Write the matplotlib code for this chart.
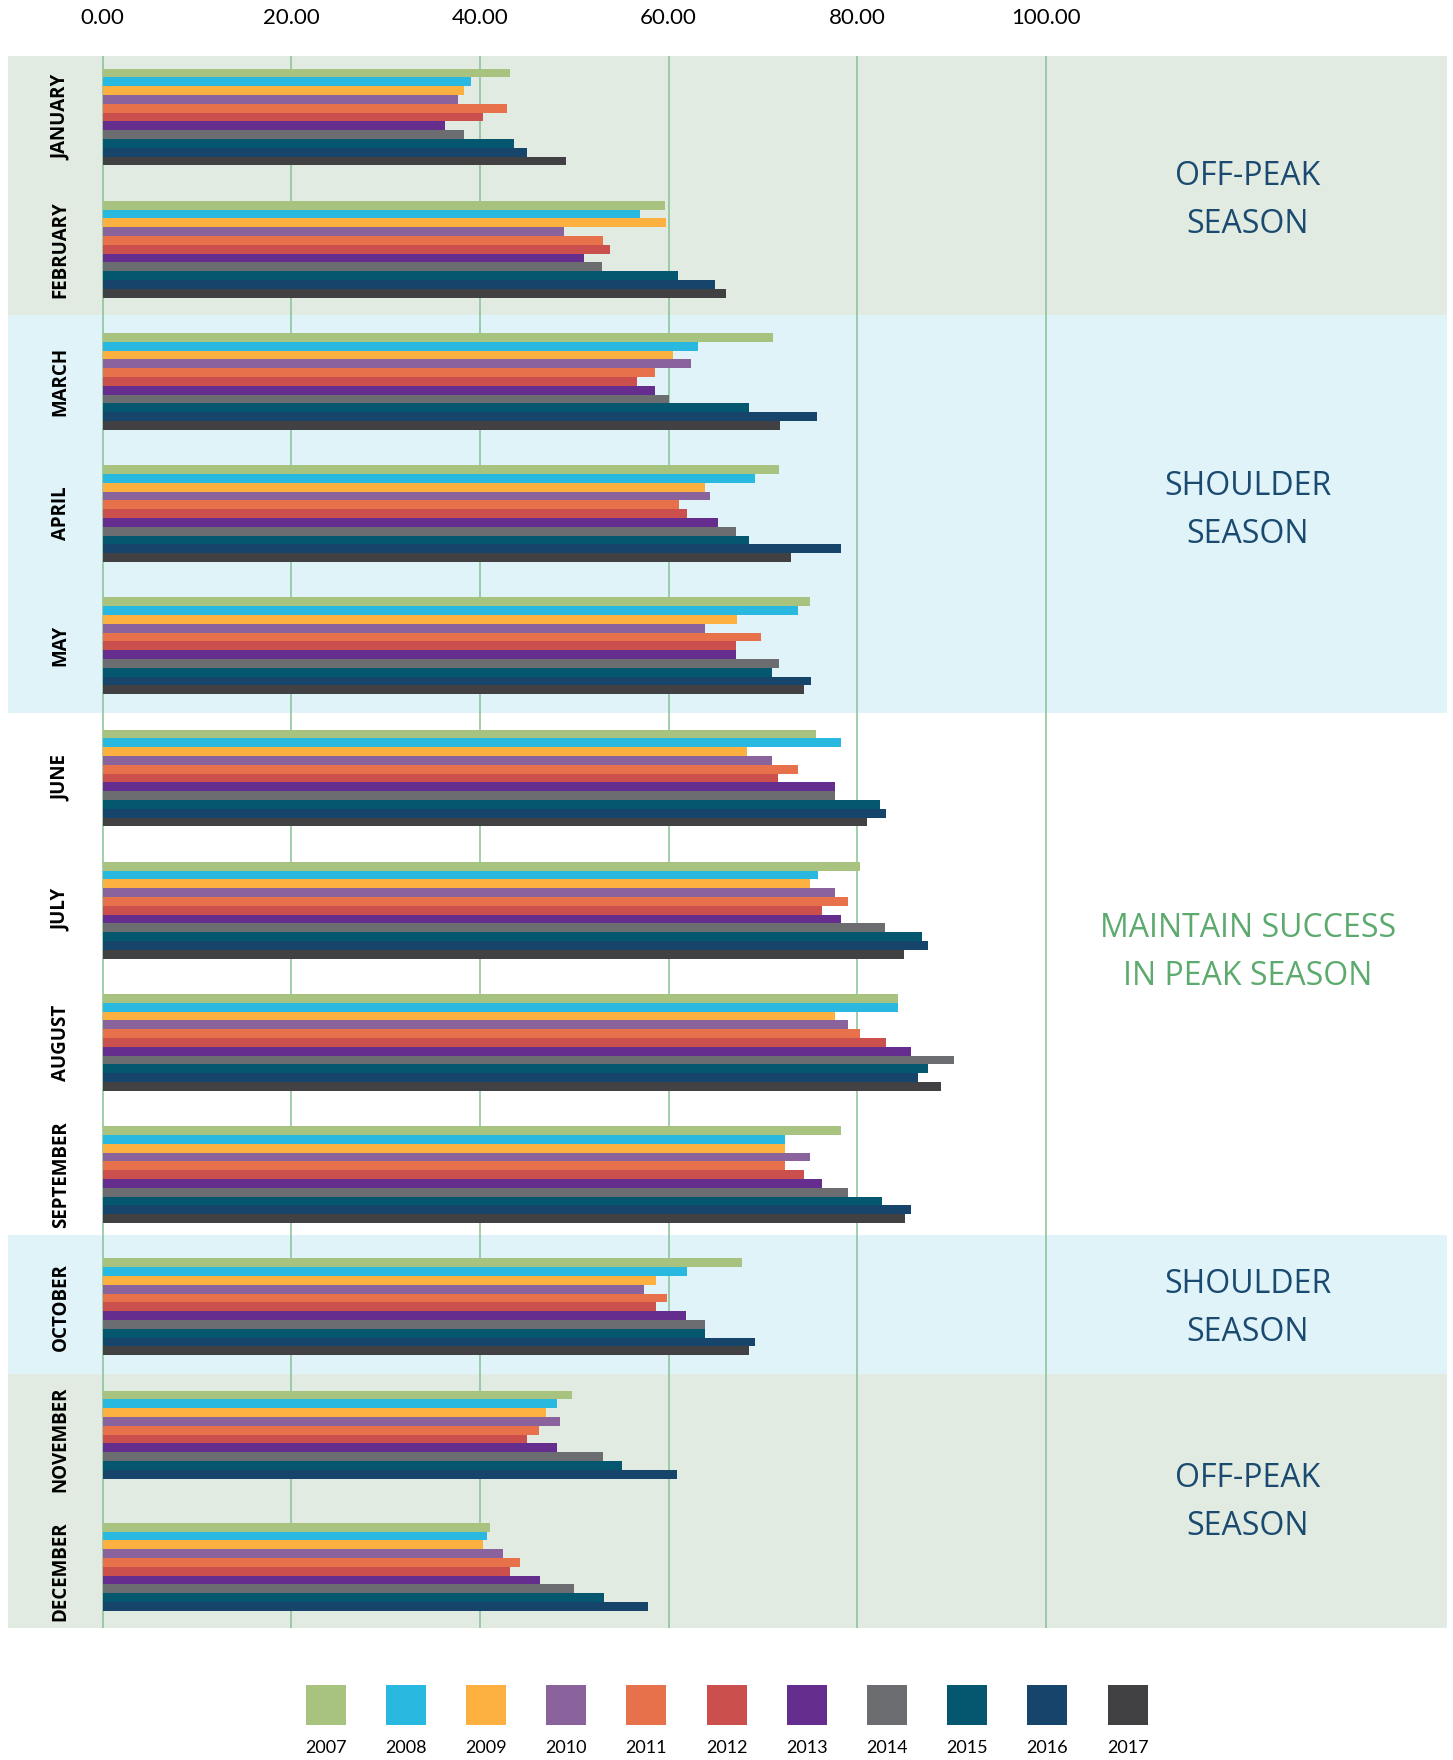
import numpy as np
import matplotlib
matplotlib.use("Agg")
import matplotlib.pyplot as plt

months = ["JANUARY", "FEBRUARY", "MARCH", "APRIL", "MAY", "JUNE", "JULY",
          "AUGUST", "SEPTEMBER", "OCTOBER", "NOVEMBER", "DECEMBER"]
years = ["2007", "2008", "2009", "2010", "2011", "2012", "2013", "2014",
         "2015", "2016", "2017"]
colors = ["#A8C280", "#29B8E0", "#FCB040", "#8A629C", "#E6714A", "#CB4F4C",
          "#652D8E", "#6C6D70", "#05566F", "#17446B", "#414042"]

# one list per month, values for 2007..2017 (nan = no data)
jan = [43.2, 39.0, 38.3, 37.7, 42.9, 40.3, 36.3, 38.3, 43.6, 45.0, 49.1]
feb = [59.6, 57.0, 59.7, 48.9, 53.0, 53.8, 51.0, 52.9, 61.0, 64.9, 66.1]
mar = [71.1, 63.1, 60.5, 62.4, 58.5, 56.6, 58.5, 60.0, 68.5, 75.7, 71.8]
apr = [71.7, 69.1, 63.8, 64.4, 61.1, 61.9, 65.2, 67.1, 68.5, 78.3, 73.0]
may = [75.0, 73.7, 67.2, 63.8, 69.8, 67.1, 67.1, 71.7, 70.9, 75.1, 74.3]
jun = [75.6, 78.3, 68.3, 70.9, 73.7, 71.6, 77.6, 77.6, 82.4, 83.0, 81.0]
jul = [80.3, 75.8, 75.0, 77.6, 79.0, 76.3, 78.3, 82.9, 86.9, 87.5, 84.9]
aug = [84.3, 84.3, 77.6, 79.0, 80.3, 83.0, 85.7, 90.2, 87.5, 86.4, 88.9]
sep = [78.3, 72.3, 72.3, 75.0, 72.3, 74.3, 76.3, 79.0, 82.6, 85.7, 85.0]
octo = [67.8, 61.9, 58.7, 57.4, 59.8, 58.7, 61.8, 63.8, 63.9, 69.2, 68.5]
nov = [49.8, 48.2, 47.0, 48.5, 46.3, 45.0, 48.2, 53.0, 55.0, 60.9, np.nan]
dec = [41.1, 40.7, 40.3, 42.4, 44.2, 43.2, 46.4, 50.0, 53.1, 57.8, np.nan]

seasons = [(-0.462, 1.5, "#E1EBE1"), (1.5, 4.51, "#DFF3F9"),
           (8.46, 9.51, "#DFF3F9"), (9.51, 11.43, "#E1EBE1")]
season_text = [("OFF-PEAK\nSEASON", 0.63, "#1B4A70"),
               ("SHOULDER\nSEASON", 2.98, "#1B4A70"),
               ("MAINTAIN SUCCESS\nIN PEAK SEASON", 6.32, "#5DAA6E"),
               ("SHOULDER\nSEASON", 9.01, "#1B4A70"),
               ("OFF-PEAK\nSEASON", 10.48, "#1B4A70")]

data = np.array([jan, feb, mar, apr, may, jun, jul, aug, sep, octo, nov, dec])

W, H = 1453, 1760
fig = plt.figure(figsize=(W / 100, H / 100), dpi=100)
ax = fig.add_axes([8 / W, 1 - 1628 / H, 1439 / W, (1628 - 56) / H])

for y0, y1, c in seasons:
    ax.axhspan(y0, y1, color=c, lw=0, zorder=0)
for v in range(0, 101, 20):
    ax.axvline(v, color="#86C295", lw=1.1, zorder=1)

n = len(years)
bh = 0.732 / n
ypos = np.arange(len(months))
for k in range(n):
    off = -0.366 + bh * (k + 0.5)
    ax.barh(ypos + off, data[:, k], height=bh, color=colors[k], lw=0, zorder=2)

for i, m in enumerate(months):
    ax.text(-4.45, i, m, rotation=90, ha="center", va="center",
            fontsize=13.5, fontweight="bold", family=["Open Sans", "DejaVu Sans"])
for txt, y, c in season_text:
    ax.text(121.4, y, txt, ha="center", va="center", color=c, fontsize=23,
            linespacing=1.6, family=["Open Sans", "DejaVu Sans"])

ax.set_xlim(-10.03, 142.5)
ax.set_ylim(11.43, -0.462)
ax.xaxis.tick_top()
ax.set_xticks(range(0, 101, 20))
ax.set_xticklabels([f"{v:.2f}" for v in range(0, 101, 20)],
                   family=["Lato", "DejaVu Sans"], fontsize=16)
ax.tick_params(axis="x", length=0, pad=20)
ax.set_yticks([])
for s in ax.spines.values():
    s.set_visible(False)

# legend
lx0 = 325.6 - 40.1
lg = fig.add_axes([lx0 / W, 1 - 1725 / H, 80.2 * 11 / W, 40 / H])
lg.bar(np.arange(n), 1, width=0.5, color=colors, lw=0)
for k, yr in enumerate(years):
    lg.text(k, -0.58, yr, ha="center", va="center", fontsize=13,
            family=["Lato", "DejaVu Sans"])
lg.set_xlim(-0.5, n - 0.5)
lg.set_ylim(0, 1)
lg.axis("off")

fig.savefig("out.png", dpi=100)
